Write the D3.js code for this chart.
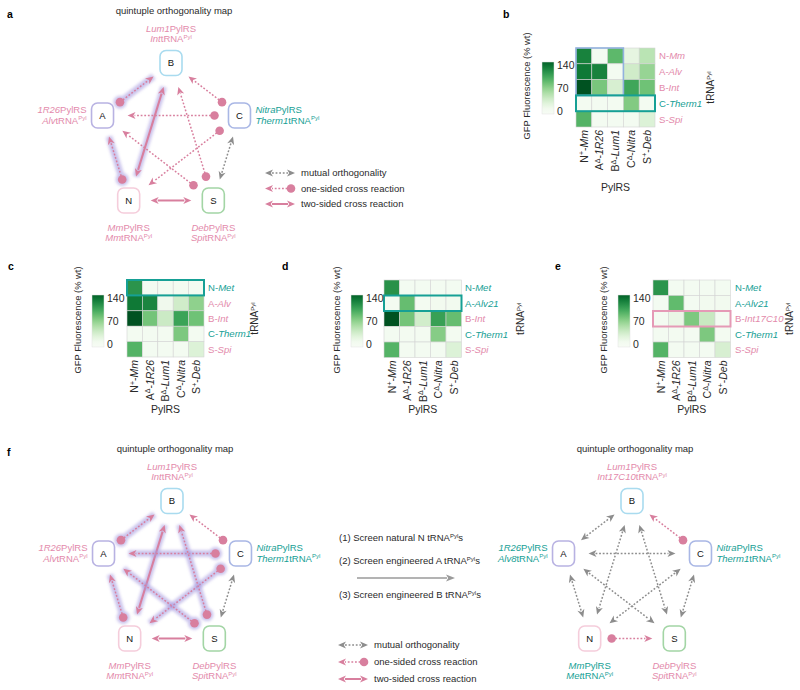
<!DOCTYPE html>
<html><head><meta charset="utf-8">
<script src="https://cdn.jsdelivr.net/npm/d3@7"></script>
<style>body{margin:0;background:#fff}svg{display:block;font-family:"Liberation Sans",Arial,sans-serif}</style>
</head><body><svg id="c" width="800" height="690"></svg>
<script>
// ---------------- data ----------------
const pylrsClass = ["N","A","B","C","S"];
const pylrsSup   = ["+","Δ","Δ","Δ","+"];
const pylrsName  = ["Mm","1R26","Lum1","Nitra","Deb"];
const trnaClass  = ["N","A","B","C","S"];
const trnaB = ["Mm","Alv","Int","Therm1","Spi"];
const trnaC = ["Met","Alv","Int","Therm1","Spi"];
const trnaD = ["Met","Alv21","Int","Therm1","Spi"];
const trnaE = ["Met","Alv21","Int17C10","Therm1","Spi"];
const orthoB = [0,0,0,1,0];
const orthoC = [1,0,0,1,0];
const orthoD = [1,1,0,1,0];
const orthoE = [1,1,0,1,0];
// GFP fluorescence (% wt): rows = tRNA, cols = PylRS
const gfpB = [[130,4,92,18,48],[136,130,4,35,66],[158,80,30,106,84],[4,4,4,76,4],[96,4,4,4,26]];
const gfpC = [[118,4,4,4,4],[136,128,8,35,70],[158,82,38,108,84],[4,4,4,78,4],[96,4,4,4,26]];
const gfpD = [[120,4,4,4,4],[4,88,4,6,6],[158,82,34,110,88],[4,4,4,74,4],[96,4,4,4,26]];
const gfpE = [[118,4,4,4,4],[4,90,4,6,6],[4,14,78,40,4],[4,4,4,78,4],[96,4,4,4,30]];
const cbTicks = [0,70,140];
// highlighted boxes [row0,row1,col0,col1,kind]
const hlB = [[0,2,0,2,"set"],[3,3,0,4,"ortho"]];
const hlC = [[0,0,0,4,"ortho"]];
const hlD = [[1,1,0,4,"ortho"]];
const hlE = [[2,2,0,4,"cross"]];
// orthogonality maps
const nodeKeys   = ["B","A","C","N","S"];
const nodePylrs  = ["Lum1","1R26","Nitra","Mm","Deb"];
const nodeTrna1  = ["Int","Alv","Therm1","Mm","Spi"];
const nodeOrtho1 = [0,0,1,0,0];
const nodeTrna2  = ["Int17C10","Alv8","Therm1","Met","Spi"];
const nodeOrtho2 = [0,1,1,1,0];
// [from, to, type, highlighted]
const edgesA = [["A","B","one",1],["N","A","one",1],["N","B","two",1],["C","B","one",0],["C","A","one",0],
  ["C","N","one",0],["S","A","one",0],["S","B","one",0],["S","C","mutual",0],["N","S","two",0]];
const edgesF1 = [["A","B","one",1],["N","A","one",1],["N","B","two",1],["C","B","one",0],["C","A","one",1],
  ["C","N","one",1],["S","A","one",1],["S","B","one",1],["S","C","mutual",0],["N","S","two",1]];
const edgesF2 = [["A","B","mutual",0],["A","C","mutual",0],["A","N","mutual",0],["A","S","mutual",0],["B","N","mutual",0],
  ["B","S","mutual",0],["C","N","mutual",0],["C","S","mutual",0],["C","B","one",0],["N","S","one",0]];
const legendItems = ["mutual orthogonality","one-sided cross reaction","two-sided cross reaction"];
const legendTypes = ["mutual","one","two"];
const screenSteps = [["(1) Screen natural N tRNA","s"],["(2) Screen engineered A tRNA","s"],["(3) Screen engineered B tRNA","s"]];

// ---------------- styles ----------------
const PINK="#e38aab", PINKL="#d87f9e", TEAL="#16a095", GRAY="#8d8d8d", TXT="#2a2a2a";
const nodeStroke = {B:"#a9dbef",A:"#b8b2e2",C:"#a9b7e5",N:"#f5cddb",S:"#a3d5a5"};
const svg = d3.select("#c");
const defs = svg.append("defs");
const flt = defs.append("filter").attr("id","blur").attr("x","-30%").attr("y","-30%").attr("width","160%").attr("height","160%");
flt.append("feGaussianBlur").attr("stdDeviation",1.6);
const color = d3.scaleSequential(d3.interpolateGreens).domain([0,165]);
const grad = defs.append("linearGradient").attr("id","cbgrad").attr("x1",0).attr("y1",1).attr("x2",0).attr("y2",0);
grad.selectAll("stop").data(d3.range(11)).join("stop")
  .attr("offset",d=>d/10).attr("stop-color",d=>color(Math.max(0,-10+d*16)));

function sup(t, s, size){
  t.append("tspan").attr("dy",-3.5).attr("font-size",size||6).text(s);
  return t.append("tspan").attr("dy",3.5);
}
function panelLetter(l,x,y){svg.append("text").attr("x",x).attr("y",y).attr("font-weight","bold").attr("font-size",10.5).attr("fill","#000").text(l);}

// ---------------- heatmaps ----------------
function heatmap(o){
  const g = svg.append("g");
  const x = d3.scaleBand().domain(d3.range(5)).range([o.x0,o.x0+5*o.cell]);
  const y = d3.scaleBand().domain(d3.range(5)).range([o.y0,o.y0+5*o.cell]);
  const cells = o.vals.flatMap((row,r)=>row.map((v,c)=>({r,c,v})));
  g.selectAll("rect.cell").data(cells).join("rect").attr("class","cell")
    .attr("x",d=>x(d.c)).attr("y",d=>y(d.r)).attr("width",x.bandwidth()).attr("height",y.bandwidth())
    .attr("fill",d=>color(d.v)).attr("stroke","#d4d4d4").attr("stroke-width",0.6);
  const hlCol = {set:"#92b1de",ortho:TEAL,cross:"#e59ab6"};
  g.selectAll("rect.hl").data(o.hl).join("rect").attr("class","hl")
    .attr("x",d=>x(d[2])).attr("y",d=>y(d[0]))
    .attr("width",d=>(d[3]-d[2]+1)*x.bandwidth()).attr("height",d=>(d[1]-d[0]+1)*y.bandwidth())
    .attr("fill","none").attr("stroke",d=>hlCol[d[4]]).attr("stroke-width",d=>d[4]==="set"?1.6:2);
  g.selectAll("text.row").data(o.names).join("text").attr("class","row")
    .attr("x",o.rowX).attr("y",(d,i)=>y(i)+y.bandwidth()/2).attr("dy","0.36em")
    .attr("font-size",9.6).attr("fill",(d,i)=>o.ortho[i]?TEAL:PINK)
    .each(function(d,i){const t=d3.select(this);t.append("tspan").text(trnaClass[i]+"-");t.append("tspan").attr("font-style","italic").text(d);});
  const ly = o.y0+5*o.cell+3;
  g.selectAll("text.col").data(pylrsName).join("text").attr("class","col")
    .attr("transform",(d,i)=>`translate(${x(i)+x.bandwidth()/2},${ly}) rotate(-90)`)
    .attr("dy","0.36em").attr("text-anchor","end").attr("font-size",10.5).attr("fill",TXT)
    .each(function(d,i){const t=d3.select(this);t.append("tspan").text(pylrsClass[i]);
      const r=sup(t,pylrsSup[i],7); r.text("-"); t.append("tspan").attr("font-style","italic").text(d);});
  const cy = d3.scaleLinear().domain([-10,150]).range([o.cby+52,o.cby]);
  g.append("rect").attr("x",o.cbx).attr("y",o.cby).attr("width",12).attr("height",52)
    .attr("fill","url(#cbgrad)").attr("stroke","#e2e2e2").attr("stroke-width",0.5);
  g.selectAll("text.tick").data(cbTicks).join("text").attr("class","tick")
    .attr("x",o.cbx+15).attr("y",d=>cy(d)).attr("dy","0.36em").attr("font-size",10.5).attr("fill",TXT).text(d=>d);
  g.append("text").attr("transform",`translate(${o.gfpX},${o.gfpY}) rotate(-90)`).attr("text-anchor","middle")
    .attr("font-size",9.4).attr("fill",TXT).text("GFP Fluorescence (% wt)");
  const tr = g.append("text").attr("transform",`translate(${o.trnaX},${o.y0+2.5*o.cell}) rotate(-90)`)
    .attr("text-anchor","middle").attr("font-size",10).attr("fill",TXT);
  tr.append("tspan").text("tRNA"); tr.append("tspan").attr("dy",-3.5).attr("font-size",6).text("Pyl");
  g.append("text").attr("x",o.x0+2.5*o.cell).attr("y",o.pylY).attr("text-anchor","middle")
    .attr("font-size",10.5).attr("fill",TXT).text("PylRS");
}
heatmap({x0:576,y0:48,cell:15.8,cbx:542,cby:62,gfpX:530,gfpY:86,rowX:659,trnaX:714,pylY:191,vals:gfpB,names:trnaB,ortho:orthoB,hl:hlB});
heatmap({x0:127,y0:280,cell:15.4,cbx:92,cby:295,gfpX:81,gfpY:320,rowX:208,trnaX:258,pylY:413,vals:gfpC,names:trnaC,ortho:orthoC,hl:hlC});
heatmap({x0:384,y0:280,cell:15.5,cbx:351,cby:295,gfpX:340,gfpY:320,rowX:465,trnaX:524,pylY:413,vals:gfpD,names:trnaD,ortho:orthoD,hl:hlD});
heatmap({x0:653,y0:280,cell:15.5,cbx:618,cby:295,gfpX:607,gfpY:320,rowX:735,trnaX:793,pylY:413,vals:gfpE,names:trnaE,ortho:orthoE,hl:hlE});
panelLetter("a",7,18); panelLetter("b",503,18); panelLetter("c",8,270); panelLetter("d",282,270); panelLetter("e",555,270); panelLetter("f",7,456);

// ---------------- arrows ----------------
function head(g,T,u,col,L){
  L=L||8; const W=3.6, n=[-u[1],u[0]];
  const b=[T[0]-u[0]*L,T[1]-u[1]*L], nt=[T[0]-u[0]*(L-2.2),T[1]-u[1]*(L-2.2)];
  g.append("path").attr("d",`M${T}L${b[0]+n[0]*W},${b[1]+n[1]*W}L${nt}L${b[0]-n[0]*W},${b[1]-n[1]*W}Z`).attr("fill",col);
}
function arrowSeg(g,s,e,type,glow){
  const dx=e[0]-s[0], dy=e[1]-s[1], len=Math.hypot(dx,dy), u=[dx/len,dy/len];
  const col = type==="mutual"?GRAY:PINKL;
  if(glow){
    const gg=g.append("g").attr("filter","url(#blur)").attr("opacity",0.6);
    gg.append("line").attr("x1",s[0]).attr("y1",s[1]).attr("x2",e[0]).attr("y2",e[1]).attr("stroke","#a79be0").attr("stroke-width",6.5);
    if(type==="one") gg.append("circle").attr("cx",s[0]).attr("cy",s[1]).attr("r",6.5).attr("fill","#a79be0");
  }
  const back = type==="one"?0:7;
  const a=[s[0]+u[0]*back,s[1]+u[1]*back], b=[e[0]-u[0]*7,e[1]-u[1]*7];
  g.append("line").attr("x1",a[0]).attr("y1",a[1]).attr("x2",b[0]).attr("y2",b[1])
    .attr("stroke",col).attr("stroke-width",type==="two"?2:1.5)
    .attr("stroke-dasharray",type==="two"?null:"1.8,1.8");
  head(g,e,u,col);
  if(type==="one") g.append("circle").attr("cx",s[0]).attr("cy",s[1]).attr("r",4.3).attr("fill",PINKL);
  else head(g,s,[-u[0],-u[1]],col);
}

// ---------------- orthogonality maps ----------------
const ring = ["B","C","S","N","A"];
const angle = {B:-90,C:-18,S:54,N:126,A:198};
function diagram(cx,cy,edges,trna,ortho){
  const P={}; ring.forEach(k=>{const a=angle[k]*Math.PI/180;P[k]=[cx+72*Math.cos(a),cy+76*Math.sin(a)];});
  const g=svg.append("g");
  svg.append("text").attr("x",cx+3).attr("y",cy-125).attr("text-anchor","middle").attr("font-size",9.5).attr("fill",TXT).text("quintuple orthogonality map");
  const hw=11, hh=12.5;
  const ex=u=>Math.min(Math.abs(u[0])>1e-6?hw/Math.abs(u[0]):1e9, Math.abs(u[1])>1e-6?hh/Math.abs(u[1]):1e9);
  const sorted=[...edges].sort((a,b)=>b[3]-a[3]);
  sorted.forEach(e=>{
    const A=P[e[0]], B=P[e[1]], dx=B[0]-A[0], dy=B[1]-A[1], l=Math.hypot(dx,dy), u=[dx/l,dy/l];
    const di=Math.abs(ring.indexOf(e[0])-ring.indexOf(e[1]));
    const adj = di===1||di===4;
    const d=Math.max(ex(u)+4, adj?22:25);
    arrowSeg(g,[A[0]+u[0]*d,A[1]+u[1]*d],[B[0]-u[0]*d,B[1]-u[1]*d],e[2],e[3]);
  });
  const nodes = g.selectAll("g.node").data(nodeKeys).join("g").attr("class","node")
    .attr("transform",k=>`translate(${P[k][0]},${P[k][1]})`);
  nodes.append("rect").attr("x",-hw).attr("y",-hh).attr("width",2*hw).attr("height",2*hh).attr("rx",6)
    .attr("fill","#fff").attr("stroke",k=>nodeStroke[k]).attr("stroke-width",1.6);
  nodes.append("text").attr("text-anchor","middle").attr("dy","0.36em").attr("font-size",9.5).attr("fill","#111").text(k=>k);
  nodeKeys.forEach((k,i)=>{
    const [x,y]=P[k]; let anchor="middle", lx=x, y1, y2;
    if(k==="B"){y1=y-31;y2=y-21;} else if(k==="A"){anchor="end";lx=x-16;y1=y-3;y2=y+8;}
    else if(k==="C"){anchor="start";lx=x+16;y1=y-3;y2=y+8;} else {y1=y+31;y2=y+41;}
    const c = ortho[i]?TEAL:PINK;
    const t1=g.append("text").attr("x",lx).attr("y",y1).attr("text-anchor",anchor).attr("font-size",9.5).attr("fill",c);
    t1.append("tspan").attr("font-style","italic").text(nodePylrs[i]); t1.append("tspan").text("PylRS");
    const t2=g.append("text").attr("x",lx).attr("y",y2).attr("text-anchor",anchor).attr("font-size",9.5).attr("fill",c);
    t2.append("tspan").attr("font-style","italic").text(trna[i]); t2.append("tspan").text("tRNA");
    t2.append("tspan").attr("dy",-3.5).attr("font-size",6).text("Pyl");
  });
}
diagram(171,139,edgesA,nodeTrna1,nodeOrtho1);
diagram(172,577,edgesF1,nodeTrna1,nodeOrtho1);
diagram(632,577,edgesF2,nodeTrna2,nodeOrtho2);

function legend(x,y0,dy){
  const g=svg.append("g");
  legendTypes.forEach((t,i)=>{
    const y=y0+i*dy;
    if(t==="one") arrowSeg(g,[x+26,y],[x,y],"one",0); else arrowSeg(g,[x,y],[x+30,y],t,0);
    g.append("text").attr("x",x+36).attr("y",y).attr("dy","0.36em").attr("font-size",9.5).attr("fill",TXT).text(legendItems[i]);
  });
}
legend(265,173,15.5);
legend(338,645,17);

const sg=svg.append("g");
sg.selectAll("text").data(screenSteps).join("text")
  .attr("x",339).attr("y",(d,i)=>[541,564,598][i]).attr("font-size",9.5).attr("fill",TXT)
  .each(function(d){const t=d3.select(this);t.append("tspan").text(d[0]);t.append("tspan").attr("dy",-3.5).attr("font-size",6).text("Pyl");t.append("tspan").attr("dy",3.5).text(d[1]);});
sg.append("line").attr("x1",357).attr("y1",578).attr("x2",447).attr("y2",578).attr("stroke","#9a9a9a").attr("stroke-width",1.5);
head(sg,[455,578],[1,0],"#9a9a9a",9);
</script></body></html>
